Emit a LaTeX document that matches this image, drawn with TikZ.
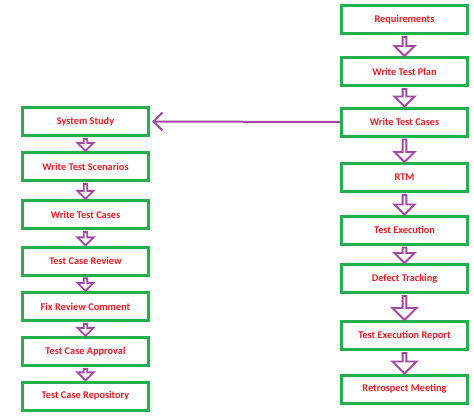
\documentclass[tikz,border=0pt]{standalone}
\usepackage{fontspec}
\setmainfont{Carlito}
\usepackage{tikz}
\usetikzlibrary{shapes.arrows, arrows.meta, calc}

\definecolor{boxgreen}{RGB}{34,177,76}
\definecolor{flowpurple}{RGB}{163,73,164}
\definecolor{labelred}{RGB}{237,28,36}

\tikzset{
    stage/.style={draw=boxgreen, line width=3pt, fill=white, minimum width=126pt,
        minimum height=28pt, inner sep=0pt, text=labelred,
        font=\fontsize{10.3}{12}\selectfont\bfseries},
    downblock/.style={single arrow, draw=flowpurple, line width=1.9pt, fill=white,
        rotate=-90, inner sep=0pt, outer sep=0pt, minimum width=20pt,
        single arrow head extend=4pt, single arrow head indent=0pt},
    smallblock/.style={minimum width=16pt, single arrow head extend=3.5pt}
}

% hollow block arrow from the bottom of one box to the top of the next
\newcommand{\stepdown}[3][]{%
    \path let \p1=(#2.south), \p2=(#3.north), \n1={\y1-\y2-2pt} in
        (#2.south) -- (#3.north) node[midway, downblock, minimum height=\n1, #1] {};}

\begin{document}
\begin{tikzpicture}[x=1pt, y=-1pt]
    \useasboundingbox (0,0) rectangle (474,416);

    % Right column: main test life cycle
    \begin{scope}[xshift=404.5pt]
        \node[stage] (req)    at (0, 19.5)  {Requirements};
        \node[stage] (plan)   at (0, 71.5)  {Write Test Plan};
        \node[stage] (rcases) at (0, 122)   {Write Test Cases};
        \node[stage] (rtm)    at (0, 177.5) {RTM};
        \node[stage] (exec)   at (0, 230)   {Test Execution};
        \node[stage] (defect) at (0, 278.5) {Defect Tracking};
        \node[stage] (report) at (0, 335.5) {Test Execution Report};
        \node[stage] (retro)  at (0, 389)   {Retrospect Meeting};
    \end{scope}

    % Left column: detail of writing test cases
    \begin{scope}[xshift=85.5pt]
        \node[stage] (study)    at (0, 121.5) {System Study};
        \node[stage] (scen)     at (0, 166.5) {Write Test Scenarios};
        \node[stage] (lcases)   at (0, 214.5) {Write Test Cases};
        \node[stage] (review)   at (0, 261)   {Test Case Review};
        \node[stage] (fix)      at (0, 306.5) {Fix Review Comment};
        \node[stage] (approval) at (0, 351.5) {Test Case Approval};
        \node[stage] (repo)     at (0, 396)   {Test Case Repository};
    \end{scope}

    % Block arrows
    \stepdown{req}{plan}
    \stepdown{plan}{rcases}
    \stepdown{rcases}{rtm}
    \stepdown{rtm}{exec}
    \stepdown{exec}{defect}
    \stepdown[minimum width=24pt, single arrow head extend=5pt]{defect}{report}
    \stepdown[minimum width=24pt, single arrow head extend=5pt]{report}{retro}
    \stepdown[smallblock]{study}{scen}
    \stepdown[smallblock]{scen}{lcases}
    \stepdown[smallblock]{lcases}{review}
    \stepdown[smallblock]{review}{fix}
    \stepdown[smallblock]{fix}{approval}
    \stepdown[smallblock]{approval}{repo}

    % Link to the detailed column
    \draw[flowpurple, line width=2pt, shorten >=2pt,
        -{Straight Barb[length=9pt, width=18pt]}] (rcases.west) -- (study.east);
\end{tikzpicture}
\end{document}
